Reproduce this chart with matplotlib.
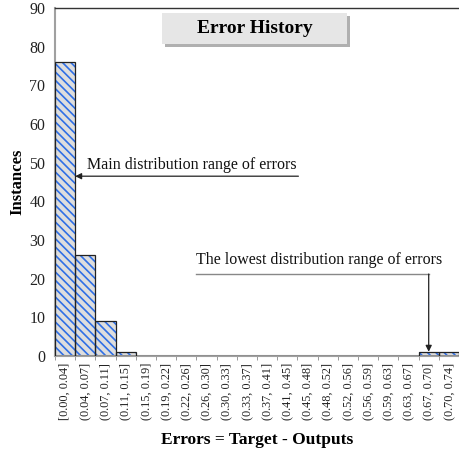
import matplotlib
matplotlib.use("Agg")
import matplotlib.pyplot as plt
from matplotlib.patches import Rectangle
import numpy as np

# Histogram bins and counts
bin_labels = ["[0.00, 0.04]", "(0.04, 0.07]", "(0.07, 0.11]", "(0.11, 0.15]",
              "(0.15, 0.19]", "(0.19, 0.22]", "(0.22, 0.26]", "(0.26, 0.30]",
              "(0.30, 0.33]", "(0.33, 0.37]", "(0.37, 0.41]", "(0.41, 0.45]",
              "(0.45, 0.48]", "(0.48, 0.52]", "(0.52, 0.56]", "(0.56, 0.59]",
              "(0.59, 0.63]", "(0.63, 0.67]", "(0.67, 0.70]", "(0.70, 0.74]"]
counts = [76, 26, 9, 1, 0, 0, 0, 0, 0, 0, 0, 0, 0, 0, 0, 0, 0, 0, 1, 1]
y_ticks = [0, 10, 20, 30, 40, 50, 60, 70, 80, 90]

plt.rcParams["font.family"] = ["Liberation Serif", "DejaVu Serif"]
plt.rcParams["hatch.linewidth"] = 1.2

fig = plt.figure(figsize=(4.6, 4.54), dpi=100)
ax = fig.add_axes([55 / 460, (454 - 356) / 454, 404 / 460, 348 / 454])

x = np.arange(len(counts))
# hatched fill
ax.bar(x, counts, width=1.0, align="edge", color="#dedede",
       edgecolor="#2f6fe6", hatch="\\\\\\\\", linewidth=0, zorder=2)
# outlines
ax.bar(x, counts, width=1.0, align="edge", fill=False,
       edgecolor="#222222", linewidth=0.9, zorder=3)

ax.set_xlim(0, len(counts))
ax.set_ylim(0, 90)
ax.set_yticks(y_ticks)
ax.tick_params(axis="y", length=0, labelsize=11.5, pad=7, labelcolor="#222222")

ax.set_xticks(x + 0.5)
ax.set_xticklabels(bin_labels, rotation=90, fontsize=8.8)
ax.tick_params(axis="x", length=0, pad=5, labelcolor="#222222")
ax.set_xticks(np.arange(len(counts) + 1), minor=True)
ax.tick_params(axis="x", which="minor", length=3, color="#888888")

for side in ["left", "bottom"]:
    ax.spines[side].set_color("#a0a0a0")
    ax.spines[side].set_linewidth(1.5)
ax.spines["top"].set_color("#333333")
ax.spines["top"].set_linewidth(1.0)
ax.spines["right"].set_visible(False)

ax.set_ylabel("Instances", fontsize=12, fontweight="bold")
ax.yaxis.set_label_coords(-0.074, 0.5)
ax.set_xlabel("Errors = Target - Outputs", fontsize=12.5, fontweight="bold")
ax.xaxis.set_label_coords(0.5, -0.218)

# Title in a shaded box with a drop shadow
bx0, bx1, by0, by1 = 0.265, 0.723, 0.8966, 0.9856
ax.add_patch(Rectangle((bx0 + 0.008, by0 - 0.009), bx1 - bx0, by1 - by0,
                       transform=ax.transAxes, facecolor="#b0b0b0",
                       edgecolor="none", zorder=4))
ax.add_patch(Rectangle((bx0, by0), bx1 - bx0, by1 - by0,
                       transform=ax.transAxes, facecolor="#e6e6e6",
                       edgecolor="none", zorder=5))
ax.text((bx0 + bx1) / 2, (by0 + by1) / 2, "Error History", transform=ax.transAxes,
        ha="center", va="center", fontsize=14, fontweight="bold", zorder=6)

# Annotation: main distribution
ax.annotate("", xy=(1.0, 46.5), xytext=(12.05, 46.5),
            arrowprops=dict(arrowstyle="-|>", color="#222222", lw=0.9,
                            mutation_scale=9, shrinkA=0, shrinkB=0), zorder=6)
ax.text(1.6, 49.4, "Main distribution range of errors", fontsize=11.5, va="center",
        ha="left", color="#111111")

# Annotation: lowest distribution
ax.plot([7.0, 18.5], [21.2, 21.2], color="#888888", lw=1.0, zorder=6)
ax.annotate("", xy=(18.5, 1.1), xytext=(18.5, 21.2),
            arrowprops=dict(arrowstyle="-|>", color="#222222", lw=0.9,
                            mutation_scale=9, shrinkA=0, shrinkB=0), zorder=6)
ax.text(7.0, 24.8, "The lowest distribution range of errors", fontsize=11.5, va="center",
        ha="left", color="#111111")

fig.savefig("out.png", dpi=100)
